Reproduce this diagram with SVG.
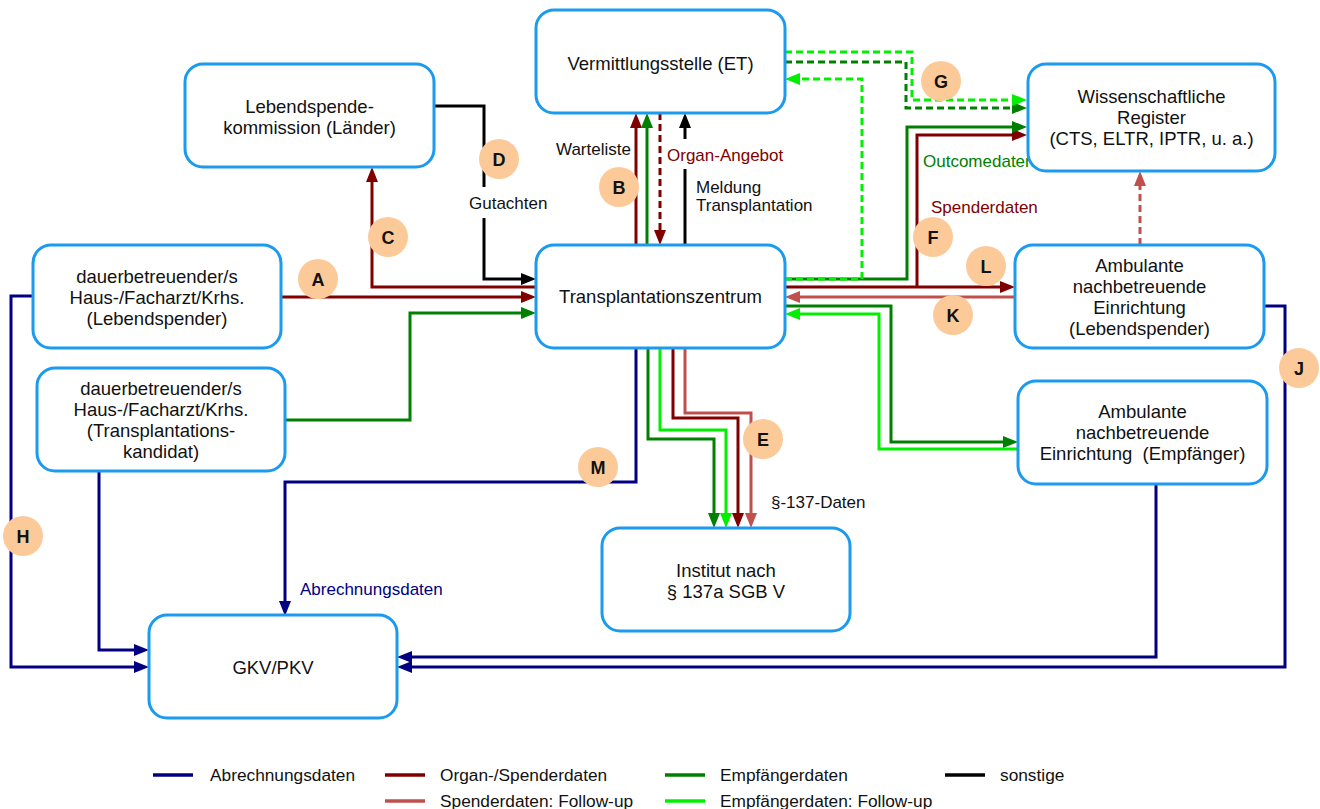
<svg xmlns="http://www.w3.org/2000/svg" width="1320" height="809" viewBox="0 0 1320 809">
  <style>
    .box { fill: #ffffff; stroke: #1a9bf0; stroke-width: 3; }
    .t { font-family: "Liberation Sans", Arial, sans-serif; font-size: 18.5px; fill: #111; text-anchor: middle; }
    .lbl { font-family: "Liberation Sans", Arial, sans-serif; font-size: 17px; }
    .leg { font-family: "Liberation Sans", Arial, sans-serif; font-size: 17.3px; fill: #111; }
    .badge circle { fill: #fcca98; }
    .badge text { font-family: "Liberation Sans", Arial, sans-serif; font-size: 18px; font-weight: bold; fill: #111; text-anchor: middle; }
    .c { fill: none; stroke-width: 3; stroke-linejoin: miter; }
    .dash { stroke-dasharray: 7 4; }
    .navy { stroke: #000080; }
    .red { stroke: #800000; }
    .salmon { stroke: #c0504d; }
    .green { stroke: #008000; }
    .lime { stroke: #00f000; }
    .black { stroke: #000000; }
  </style>
  <defs>
    <marker id="a-navy" markerUnits="userSpaceOnUse" markerWidth="15" markerHeight="12" refX="7" refY="6" orient="auto"><path d="M0,0 L15,6 L0,12 z" fill="#000080"/></marker>
    <marker id="a-red" markerUnits="userSpaceOnUse" markerWidth="15" markerHeight="12" refX="7" refY="6" orient="auto"><path d="M0,0 L15,6 L0,12 z" fill="#800000"/></marker>
    <marker id="a-salmon" markerUnits="userSpaceOnUse" markerWidth="15" markerHeight="12" refX="7" refY="6" orient="auto"><path d="M0,0 L15,6 L0,12 z" fill="#c0504d"/></marker>
    <marker id="a-green" markerUnits="userSpaceOnUse" markerWidth="15" markerHeight="12" refX="7" refY="6" orient="auto"><path d="M0,0 L15,6 L0,12 z" fill="#008000"/></marker>
    <marker id="a-lime" markerUnits="userSpaceOnUse" markerWidth="15" markerHeight="12" refX="7" refY="6" orient="auto"><path d="M0,0 L15,6 L0,12 z" fill="#00f000"/></marker>
    <marker id="a-black" markerUnits="userSpaceOnUse" markerWidth="15" markerHeight="12" refX="7" refY="6" orient="auto"><path d="M0,0 L15,6 L0,12 z" fill="#000000"/></marker>
  </defs>

  <rect width="1320" height="809" fill="#ffffff"/>

  <!-- data flows -->
  <g id="connectors">
    <!-- billing data (navy) -->
    <path class="c navy" d="M33,296 H11 V667 H141" marker-end="url(#a-navy)"/>
    <path class="c navy" d="M99,471 V650 H141" marker-end="url(#a-navy)"/>
    <path class="c navy" d="M636,348 V482 H285 V608" marker-end="url(#a-navy)"/>
    <path class="c navy" d="M1156,484 V657 H405" marker-end="url(#a-navy)"/>
    <path class="c navy" d="M1264,306 H1285 V667 H405" marker-end="url(#a-navy)"/>

    <!-- organ / donor data (dark red) -->
    <path class="c red" d="M281,297 H528" marker-end="url(#a-red)"/>
    <path class="c red" d="M536,287 H372 V175" marker-end="url(#a-red)"/>
    <path class="c red" d="M636,245 V121" marker-end="url(#a-red)"/>
    <path class="c red dash" d="M660,113 V237" marker-end="url(#a-red)"/>
    <path class="c red" d="M785,287 H1007" marker-end="url(#a-red)"/>
    <path class="c red" d="M917,287 V135 H1019" marker-end="url(#a-red)"/>
    <path class="c red" d="M673,348 V418 H738 V520" marker-end="url(#a-red)"/>

    <!-- donor follow-up (salmon) -->
    <path class="c salmon" d="M1015,297 H793" marker-end="url(#a-salmon)"/>
    <path class="c salmon" d="M685,348 V413 H751 V520" marker-end="url(#a-salmon)"/>
    <path class="c salmon dash" d="M1140,245 V179" marker-end="url(#a-salmon)"/>

    <!-- recipient data (green) -->
    <path class="c green" d="M647,245 V121" marker-end="url(#a-green)"/>
    <path class="c green" d="M286,420 H410 V313 H528" marker-end="url(#a-green)"/>
    <path class="c green" d="M785,279 H907 V127 H1019" marker-end="url(#a-green)"/>
    <path class="c green" d="M785,306 H891 V442 H1010" marker-end="url(#a-green)"/>
    <path class="c green" d="M648,348 V439 H714 V520" marker-end="url(#a-green)"/>
    <path class="c green dash" d="M785,62 H906 V108 H1019" marker-end="url(#a-green)"/>

    <!-- recipient follow-up (lime) -->
    <path class="c lime dash" d="M785,52 H912 V100 H1019" marker-end="url(#a-lime)"/>
    <path class="c lime dash" d="M785,279 H862 V79 H793" marker-end="url(#a-lime)"/>
    <path class="c lime" d="M1018,449 H879 V314 H793" marker-end="url(#a-lime)"/>
    <path class="c lime" d="M660,348 V430 H726 V520" marker-end="url(#a-lime)"/>

    <!-- other (black) -->
    <path class="c black" d="M434,106 H484 V279 H528" marker-end="url(#a-black)"/>
    <path class="c black" d="M685,245 V121" marker-end="url(#a-black)"/>
  </g>

  <!-- flow labels -->
  <g id="labels">
    <text class="lbl" x="556" y="155" fill="#111">Warteliste</text>
    <rect x="664" y="139" width="124" height="30" fill="#ffffff"/>
    <text class="lbl" x="667" y="161" fill="#800000">Organ-Angebot</text>
    <text class="lbl" x="696" y="193" fill="#111">Meldung</text>
    <text class="lbl" x="696" y="211" fill="#111">Transplantation</text>
    <rect x="466" y="187" width="84" height="31" fill="#ffffff"/>
    <text class="lbl" x="469" y="209" fill="#111">Gutachten</text>
    <text class="lbl" x="923" y="167" fill="#008000">Outcomedaten</text>
    <text class="lbl" x="931" y="213" fill="#800000">Spenderdaten</text>
    <text class="lbl" x="771" y="508" fill="#111">§-137-Daten</text>
    <text class="lbl" x="300" y="595" fill="#000080">Abrechnungsdaten</text>
  </g>

  <!-- nodes -->
  <g id="node-et">
    <rect class="box" x="536" y="10" width="249" height="103" rx="18"/>
    <text class="t" x="660.5" y="69.5">Vermittlungsstelle (ET)</text>
  </g>
  <g id="node-lsk">
    <rect class="box" x="185" y="64" width="249" height="103" rx="18"/>
    <text class="t" x="309.5" y="113">Lebendspende-</text>
    <text class="t" x="309.5" y="134">kommission (Länder)</text>
  </g>
  <g id="node-register">
    <rect class="box" x="1028" y="64" width="247" height="107" rx="18"/>
    <text class="t" x="1151.5" y="103">Wissenschaftliche</text>
    <text class="t" x="1151.5" y="124">Register</text>
    <text class="t" x="1151.5" y="145">(CTS, ELTR, IPTR, u. a.)</text>
  </g>
  <g id="node-arzt-spender">
    <rect class="box" x="33" y="245" width="248" height="103" rx="18"/>
    <text class="t" x="157" y="282.5">dauerbetreuender/s</text>
    <text class="t" x="157" y="303.5">Haus-/Facharzt/Krhs.</text>
    <text class="t" x="157" y="324.5">(Lebendspender)</text>
  </g>
  <g id="node-arzt-kandidat">
    <rect class="box" x="37" y="368" width="248" height="103" rx="18"/>
    <text class="t" x="161" y="395">dauerbetreuender/s</text>
    <text class="t" x="161" y="416">Haus-/Facharzt/Krhs.</text>
    <text class="t" x="161" y="437">(Transplantations-</text>
    <text class="t" x="161" y="458">kandidat)</text>
  </g>
  <g id="node-tz">
    <rect class="box" x="536" y="245" width="249" height="103" rx="18"/>
    <text class="t" x="660.5" y="303">Transplantationszentrum</text>
  </g>
  <g id="node-amb-spender">
    <rect class="box" x="1015" y="245" width="249" height="103" rx="18"/>
    <text class="t" x="1139.5" y="272">Ambulante</text>
    <text class="t" x="1139.5" y="293">nachbetreuende</text>
    <text class="t" x="1139.5" y="314">Einrichtung</text>
    <text class="t" x="1139.5" y="335">(Lebendspender)</text>
  </g>
  <g id="node-amb-empf">
    <rect class="box" x="1018" y="381" width="249" height="103" rx="18"/>
    <text class="t" x="1142.5" y="418">Ambulante</text>
    <text class="t" x="1142.5" y="439">nachbetreuende</text>
    <text class="t" x="1142.5" y="460">Einrichtung&#160; (Empfänger)</text>
  </g>
  <g id="node-institut">
    <rect class="box" x="602" y="528" width="248" height="103" rx="18"/>
    <text class="t" x="726" y="577">Institut nach</text>
    <text class="t" x="726" y="598">§ 137a SGB V</text>
  </g>
  <g id="node-gkv">
    <rect class="box" x="149" y="615" width="248" height="103" rx="18"/>
    <text class="t" x="273" y="674">GKV/PKV</text>
  </g>

  <!-- flow markers A-M -->
  <g id="badges">
    <g class="badge" id="badge-a"><circle cx="318" cy="279" r="20"/><text x="318" y="285.5">A</text></g>
    <g class="badge" id="badge-b"><circle cx="619" cy="187" r="20"/><text x="619" y="193.5">B</text></g>
    <g class="badge" id="badge-c"><circle cx="388" cy="237" r="20"/><text x="388" y="243.5">C</text></g>
    <g class="badge" id="badge-d"><circle cx="499" cy="159" r="20"/><text x="499" y="165.5">D</text></g>
    <g class="badge" id="badge-e"><circle cx="763" cy="439" r="20"/><text x="763" y="445.5">E</text></g>
    <g class="badge" id="badge-f"><circle cx="933" cy="237" r="20"/><text x="933" y="243.5">F</text></g>
    <g class="badge" id="badge-g"><circle cx="941" cy="81" r="20"/><text x="941" y="87.5">G</text></g>
    <g class="badge" id="badge-h"><circle cx="23" cy="536" r="20"/><text x="23" y="542.5">H</text></g>
    <g class="badge" id="badge-j"><circle cx="1299" cy="368" r="20"/><text x="1299" y="374.5">J</text></g>
    <g class="badge" id="badge-k"><circle cx="953" cy="315" r="20"/><text x="953" y="321.5">K</text></g>
    <g class="badge" id="badge-l"><circle cx="986" cy="266" r="20"/><text x="986" y="272.5">L</text></g>
    <g class="badge" id="badge-m"><circle cx="598" cy="467" r="20"/><text x="598" y="473.5">M</text></g>
  </g>

  <!-- legend -->
  <g id="legend">
    <path class="navy" stroke-width="3.5" d="M153,775 H193"/>
    <text class="leg" x="210" y="781">Abrechnungsdaten</text>
    <path class="red" stroke-width="3.5" d="M385,775 H425"/>
    <text class="leg" x="440" y="781">Organ-/Spenderdaten</text>
    <path class="green" stroke-width="3.5" d="M665,775 H705"/>
    <text class="leg" x="720" y="781">Empfängerdaten</text>
    <path class="black" stroke-width="3.5" d="M945,775 H985"/>
    <text class="leg" x="1000" y="781">sonstige</text>
    <path class="salmon" stroke-width="3.5" d="M385,801 H425"/>
    <text class="leg" x="440" y="807">Spenderdaten: Follow-up</text>
    <path class="lime" stroke-width="3.5" d="M665,801 H705"/>
    <text class="leg" x="720" y="807">Empfängerdaten: Follow-up</text>
  </g>
</svg>
